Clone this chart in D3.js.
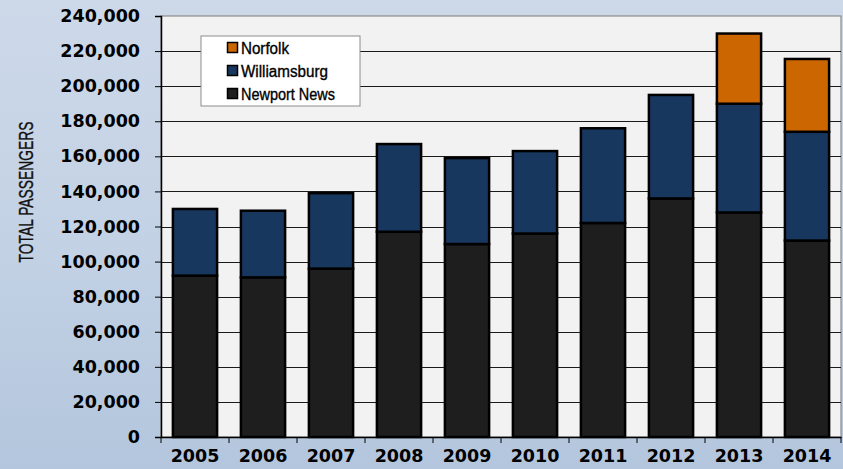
<!DOCTYPE html>
<html>
<head>
<meta charset="utf-8">
<script src="https://cdn.jsdelivr.net/npm/d3@7"></script>
<style>
  html, body { margin: 0; padding: 0; }
  body { width: 843px; height: 469px; overflow: hidden; }
  svg { display: block; }
</style>
</head>
<body>
<svg id="chart" width="843" height="469"></svg>
<script>
// Passenger totals by year and airport
const years = ["2005", "2006", "2007", "2008", "2009", "2010", "2011", "2012", "2013", "2014"];
const newportNews = [92000, 91000, 96000, 117000, 110000, 116000, 122000, 136000, 128000, 112000];
const williamsburg = [38000, 38000, 43000, 50000, 49000, 47000, 54000, 59000, 62000, 62000];
const norfolk = [0, 0, 0, 0, 0, 0, 0, 0, 40000, 41500];
const seriesNames = ["Newport News", "Williamsburg", "Norfolk"];
const seriesColors = ["#1e1e1e", "#17375e", "#cc6600"];
const yTicks = [0, 20000, 40000, 60000, 80000, 100000, 120000, 140000, 160000, 180000, 200000, 220000, 240000];

const W = 843, H = 469;
const plot = { left: 161, right: 841, top: 16, bottom: 437 };
const narrowFont = "'Liberation Sans', Arial, sans-serif";

const svg = d3.select("#chart");
const defs = svg.append("defs");

// backdrop: pale steel-blue wash
const bg = defs.append("linearGradient").attr("id", "bg").attr("x1", 0).attr("y1", 0).attr("x2", 0).attr("y2", 1);
bg.append("stop").attr("offset", "0%").attr("stop-color", "#cdd9e9");
bg.append("stop").attr("offset", "55%").attr("stop-color", "#c2d1e4");
bg.append("stop").attr("offset", "100%").attr("stop-color", "#b3c6dd");
svg.append("rect").attr("width", W).attr("height", H).attr("fill", "url(#bg)");

const x = d3.scaleBand().domain(years).range([plot.left, plot.right]).paddingInner(0.35).paddingOuter(0.175);
const y = d3.scaleLinear().domain([0, 240000]).range([plot.bottom, plot.top]);

// plot panel
svg.append("rect")
  .attr("x", plot.left).attr("y", plot.top)
  .attr("width", plot.right - plot.left).attr("height", plot.bottom - plot.top)
  .attr("fill", "#f2f2f2").attr("stroke", "#8c8c8c").attr("stroke-width", 1.2);

// horizontal gridlines
svg.append("g").selectAll("line")
  .data(yTicks.filter(t => t > 0 && t < 240000))
  .join("line")
  .attr("x1", plot.left).attr("x2", plot.right)
  .attr("y1", d => Math.round(y(d)) + 0.5).attr("y2", d => Math.round(y(d)) + 0.5)
  .attr("stroke", "#1a1a1a").attr("stroke-width", 1);

// stacked bars
const rows = years.map((yr, i) => ({ year: yr, "Newport News": newportNews[i], "Williamsburg": williamsburg[i], "Norfolk": norfolk[i] }));
const stacked = d3.stack().keys(seriesNames)(rows);

svg.append("g").selectAll("g")
  .data(stacked)
  .join("g")
  .attr("fill", (d, i) => seriesColors[i])
  .selectAll("rect")
  .data(d => d.filter(p => p[1] - p[0] > 0))
  .join("rect")
  .attr("x", d => x(d.data.year))
  .attr("width", x.bandwidth())
  .attr("y", d => y(d[1]))
  .attr("height", d => y(d[0]) - y(d[1]))
  .attr("stroke", "#000")
  .attr("stroke-width", 2.5);

// y axis
const yAxis = d3.axisLeft(y).tickValues(yTicks).tickFormat(d3.format(",")).tickSize(6).tickPadding(15);
const gy = svg.append("g").attr("transform", `translate(${plot.left},0)`).call(yAxis);
gy.select(".domain").attr("stroke", "#000").attr("stroke-width", 1.5);
gy.selectAll(".tick line").attr("stroke", "#000");
gy.selectAll(".tick text")
  .attr("fill", "#000")
  .style("font-family", "'DejaVu Sans', sans-serif")
  .style("font-weight", "bold")
  .style("font-size", "17.5px");

// x axis with ticks at band boundaries
const xAxis = d3.axisBottom(x).tickSize(0).tickPadding(13);
const gx = svg.append("g").attr("transform", `translate(0,${plot.bottom})`).call(xAxis);
gx.select(".domain").attr("stroke", "#000").attr("stroke-width", 1.5);
gx.selectAll(".tick text")
  .attr("fill", "#000")
  .style("font-family", "'DejaVu Sans', sans-serif")
  .style("font-weight", "bold")
  .style("font-size", "17.5px");
const step = x.step();
const bounds = d3.range(years.length + 1).map(i => plot.left + i * step);
svg.append("g").selectAll("line")
  .data(bounds)
  .join("line")
  .attr("x1", d => d).attr("x2", d => d)
  .attr("y1", plot.bottom).attr("y2", plot.bottom + 6)
  .attr("stroke", "#000").attr("stroke-width", 1);

// y axis title (condensed)
svg.append("text")
  .attr("transform", `translate(33,192) rotate(-90)`)
  .attr("text-anchor", "middle")
  .style("font-family", narrowFont)
  .style("font-size", "21px")
  .attr("textLength", 141)
  .attr("lengthAdjust", "spacingAndGlyphs")
  .attr("fill", "#111")
  .attr("stroke", "#111").attr("stroke-width", 0.35)
  .text("TOTAL PASSENGERS");

// legend
const legend = svg.append("g").attr("transform", "translate(201,36)");
legend.append("rect")
  .attr("width", 159).attr("height", 70)
  .attr("fill", "#ffffff").attr("stroke", "#8c8c8c").attr("stroke-width", 1);
const legendOrder = [2, 1, 0];
const legendWidths = { "Norfolk": 48, "Williamsburg": 87, "Newport News": 94 };
legendOrder.forEach((si, k) => {
  const cy = 12 + k * 23;
  legend.append("rect")
    .attr("x", 26.5).attr("y", cy - 5.5).attr("width", 10).attr("height", 10)
    .attr("fill", seriesColors[si]).attr("stroke", "#000").attr("stroke-width", 1.5);
  legend.append("text")
    .attr("x", 40).attr("y", cy).attr("dy", "0.36em")
    .style("font-family", narrowFont)
    .style("font-size", "16px")
    .attr("textLength", legendWidths[seriesNames[si]])
    .attr("lengthAdjust", "spacingAndGlyphs")
    .attr("fill", "#000")
    .attr("stroke", "#000").attr("stroke-width", 0.35)
    .text(seriesNames[si]);
});
</script>
</body>
</html>
